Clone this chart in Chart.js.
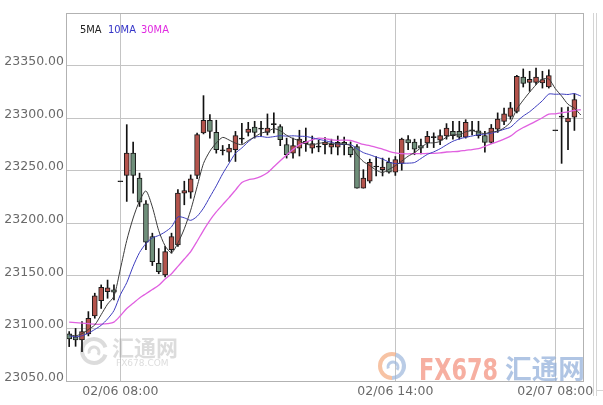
<!DOCTYPE html>
<html>
<head>
<meta charset="utf-8">
<script src="https://cdn.jsdelivr.net/npm/chart.js@4.4.1/dist/chart.umd.min.js"></script>
<style>
html, body { margin: 0; padding: 0; background: #fff; }
#wrap { position: relative; width: 603px; height: 405px; }
</style>
</head>
<body>
<div id="wrap"><canvas id="kChart"></canvas></div>
<script>
// Candles (one per slot)
const opens = [23094.8, 23092, 23089, 23094.8, 23112, 23126.5, 23135, 23136.7, 23239.5, 23245.5,
    23266.8, 23243, 23218.6, 23187.4, 23162, 23151, 23174.8, 23179.5, 23228.7, 23229.7,
    23245.5, 23285.9, 23298, 23286.4, 23269, 23267.7, 23270, 23280, 23286.4, 23291.5,
    23289.5, 23286.4, 23293.8, 23292, 23274.8, 23266.8, 23271.5, 23275.7, 23271.5, 23272.5,
    23274.8, 23272.5, 23272.5, 23277, 23272.5, 23273, 23233.4, 23240, 23253.5, 23251,
    23258, 23248.7, 23257, 23279.5, 23277.2, 23274, 23276.4, 23281.5, 23279, 23283,
    23287.4, 23287.4, 23282, 23288, 23288, 23283.3, 23277, 23289.5, 23297, 23301.7,
    23306.5, 23339, 23334, 23334, 23333.5, 23329.6, 23288, 23301, 23296.4, 23301];
const highs = [23097, 23100, 23106.5, 23116, 23133.5, 23141.4, 23146, 23141.4, 23239.5, 23293.8,
    23277.3, 23247.7, 23221.5, 23190.6, 23176, 23178, 23190.6, 23232, 23240, 23246,
    23285.9, 23321.4, 23303.3, 23298, 23274, 23275, 23287.4, 23295, 23296, 23297,
    23297, 23304, 23305, 23293.8, 23281, 23281, 23288.5, 23290.6, 23283, 23279,
    23281.5, 23280, 23283, 23282, 23277.4, 23274.8, 23251, 23261, 23263.5, 23262,
    23262, 23263.5, 23281, 23283.3, 23280, 23280, 23287.4, 23286, 23289, 23294.8,
    23297, 23297, 23298.5, 23297, 23297, 23287.4, 23294, 23305, 23309.5, 23315,
    23340.8, 23346.8, 23344.6, 23347.7, 23344.6, 23346, 23288, 23310, 23310.6, 23323.3];
const lows = [23082.7, 23083, 23078, 23092.9, 23109.7, 23119, 23128.7, 23127, 23239.5, 23220.8,
    23228.7, 23216, 23175, 23159.8, 23152, 23149, 23171.6, 23178, 23217.6, 23223.8,
    23242.4, 23285, 23281, 23266.7, 23265, 23258.8, 23258.8, 23276, 23283, 23281,
    23283, 23284, 23286, 23273.8, 23262, 23262, 23264, 23268.4, 23266.7, 23268,
    23266, 23266, 23265, 23265, 23263, 23233.4, 23233.4, 23238.3, 23245, 23245,
    23247.7, 23245.5, 23250.5, 23270, 23265.2, 23266, 23272, 23272, 23274.8, 23280,
    23280, 23280, 23281, 23284, 23281, 23267.7, 23276, 23286.4, 23293.8, 23299,
    23305, 23329.6, 23325.5, 23332, 23328.6, 23328.6, 23288, 23257, 23270, 23288.3];
const closes = [23090, 23089, 23097, 23109.7, 23131, 23139, 23138.6, 23134.5, 23239.5, 23266.8,
    23245.5, 23220, 23182, 23163.6, 23154, 23173, 23187.4, 23228.7, 23231, 23242.4,
    23284.3, 23298, 23287.4, 23270, 23269, 23271.5, 23283.3, 23280, 23289.5, 23286.4,
    23289.5, 23290.6, 23293.8, 23279.5, 23265.2, 23273.8, 23280, 23278, 23275.7, 23272.5,
    23277.2, 23275, 23277, 23274.8, 23265.2, 23233.4, 23243, 23258, 23253.5, 23253.5,
    23248.7, 23260.5, 23280, 23276.4, 23270.6, 23271.5, 23282.7, 23281.5, 23283.3, 23290.6,
    23283.3, 23282, 23296, 23288, 23283.3, 23277, 23290.6, 23299, 23304, 23309.7,
    23339.8, 23333, 23337, 23339, 23336.7, 23340.5, 23288, 23301, 23300, 23317.6];

// Moving average lines (81 slots, the last one has no candle)
const ma5 = [23094, 23093, 23095, 23099, 23103.3, 23113.1, 23123.1, 23130.6, 23156.5, 23183.7,
    23205.0, 23221.3, 23230.8, 23215.6, 23193.0, 23178.5, 23172.0, 23181.3, 23194.8, 23212.5,
    23234.8, 23256.9, 23268.6, 23276.4, 23281.7, 23279.2, 23276.2, 23274.8, 23278.7, 23282.1,
    23285.7, 23287.2, 23290.0, 23288.0, 23283.7, 23280.6, 23278.5, 23275.3, 23274.5, 23276.0,
    23276.7, 23275.7, 23275.5, 23275.3, 23273.8, 23265.1, 23258.7, 23254.9, 23250.6, 23248.3,
    23251.3, 23254.8, 23259.2, 23263.8, 23267.2, 23271.8, 23276.2, 23276.5, 23277.9, 23281.9,
    23284.3, 23284.1, 23287.0, 23288.0, 23286.5, 23285.3, 23287.0, 23287.6, 23290.8, 23296.1,
    23308.6, 23317.1, 23324.7, 23331.7, 23337.1, 23337.2, 23328.2, 23321.0, 23313.2, 23309.4, 23303];
const ma10 = [23093, 23092, 23093, 23095.5, 23099, 23103, 23109, 23117, 23132, 23143.5,
    23159.1, 23172.2, 23180.7, 23186.1, 23188.4, 23191.8, 23196.6, 23206.1, 23205.2, 23202.8,
    23206.6, 23214.4, 23225.0, 23235.6, 23247.1, 23257.0, 23266.6, 23271.7, 23277.5, 23281.9,
    23282.5, 23281.7, 23282.4, 23283.3, 23282.9, 23283.2, 23282.8, 23282.6, 23281.3, 23279.9,
    23278.6, 23277.1, 23275.4, 23274.9, 23274.9, 23270.9, 23267.2, 23265.2, 23263.0, 23261.1,
    23258.2, 23256.8, 23257.1, 23257.2, 23257.8, 23261.6, 23265.5, 23267.9, 23270.9, 23274.6,
    23278.0, 23280.2, 23281.8, 23283.0, 23284.2, 23284.8, 23285.6, 23287.3, 23289.4, 23291.3,
    23296.9, 23302.0, 23306.1, 23311.2, 23316.6, 23322.9, 23322.7, 23322.9, 23322.5, 23323.3, 23321];
const ma30 = [23106, 23105.5, 23105, 23104.5, 23104, 23104, 23104.5, 23106, 23112, 23119,
    23124, 23129, 23133, 23137, 23141, 23147, 23152, 23159, 23166, 23173.1,
    23182.9, 23193.3, 23202.8, 23210.8, 23217.7, 23224.4, 23231.6, 23238.9, 23241.4, 23242.4,
    23244.6, 23248.1, 23253.7, 23259.5, 23265.0, 23270.1, 23274.7, 23277.2, 23279.4, 23280.9,
    23280.5, 23279.4, 23278.9, 23279.1, 23278.9, 23277.0, 23275.0, 23273.9, 23272.1, 23270.5,
    23268.4, 23266.9, 23266.2, 23266.1, 23266.3, 23266.2, 23266.4, 23266.5, 23266.9, 23267.8,
    23268.1, 23268.5, 23269.4, 23270.1, 23271.0, 23273.2, 23275.6, 23277.6, 23280.1, 23282.9,
    23287.5, 23291.1, 23294.0, 23297.1, 23300.4, 23303.9, 23304.1, 23305.1, 23305.9, 23307.3, 23308];

// Axis labels
const tickIndex = [8, 51, 76];
const tickText = ['02/06 08:00', '02/06 14:00', '02/07 08:00'];
const yMin = 23050, yMax = 23400, yStep = 50;

const labels = ma5.map((v, i) => {
    const k = tickIndex.indexOf(i);
    return k >= 0 ? tickText[k] : '';
});

const UP = '#b4534c', DOWN = '#6f8f7a';
const bodyColors = closes.map((c, i) => c > opens[i] ? UP : (c < opens[i] ? DOWN : '#111'));

Chart.defaults.font.family = "'DejaVu Sans', sans-serif";
Chart.defaults.font.size = 12.5;
Chart.defaults.color = '#6a6a6a';

// frame, legend text and watermarks
const chartDecor = {
    id: 'chartDecor',
    beforeDatasetsDraw(chart) {
        const ctx = chart.ctx;
        ctx.save();
        // left watermark
        ctx.globalAlpha = 0.35;
        ctx.strokeStyle = '#9a9a9a';
        ctx.lineWidth = 4;
        ctx.beginPath();
        ctx.arc(94, 351, 12, 0.3, Math.PI * 1.9);
        ctx.stroke();
        ctx.lineWidth = 3;
        ctx.beginPath();
        ctx.arc(94, 352, 5, Math.PI * 0.9, Math.PI * 2.2);
        ctx.stroke();
        ctx.fillStyle = '#9a9a9a';
        ctx.font = "bold 22px 'Noto Sans CJK SC', sans-serif";
        ctx.textBaseline = 'alphabetic';
        ctx.fillText('汇通网', 112, 356);
        ctx.font = "9px 'DejaVu Sans', sans-serif";
        ctx.fillText('FX678.COM', 116, 366);
        // right watermark
        ctx.globalAlpha = 0.7;
        ctx.lineWidth = 4;
        ctx.strokeStyle = '#f3a97d';
        ctx.beginPath();
        ctx.arc(392, 366, 12, Math.PI * 0.5, Math.PI * 1.6);
        ctx.stroke();
        ctx.strokeStyle = '#9db6dc';
        ctx.beginPath();
        ctx.arc(392, 366, 12, Math.PI * 1.6, Math.PI * 2.5);
        ctx.stroke();
        ctx.lineWidth = 3;
        ctx.beginPath();
        ctx.arc(393, 367, 5, Math.PI * 0.9, Math.PI * 2.2);
        ctx.stroke();
        const g = ctx.createLinearGradient(418, 0, 498, 0);
        g.addColorStop(0, '#f8c98a');
        g.addColorStop(1, '#f28c78');
        ctx.fillStyle = g;
        ctx.font = "bold 31px 'Liberation Sans Narrow', 'DejaVu Sans Condensed', sans-serif";
        ctx.fillText('FX678', 419, 380, 79);
        ctx.fillStyle = '#8fadd8';
        ctx.font = "bold 27px 'Noto Sans CJK SC', sans-serif";
        ctx.fillText('汇通网', 505, 379, 80);
        ctx.restore();
    },
    afterDraw(chart) {
        const { ctx, chartArea: a } = chart;
        ctx.save();
        ctx.strokeStyle = '#b2b2b2';
        ctx.lineWidth = 1;
        ctx.strokeRect(Math.round(a.left) + 0.5, Math.round(a.top) + 0.5,
            Math.round(a.right - a.left) - 1, Math.round(a.bottom - a.top));
        ctx.strokeStyle = '#d4d4d4';
        ctx.beginPath();
        ctx.moveTo(593.5, a.top); ctx.lineTo(593.5, 396);
        ctx.moveTo(596.5, a.top); ctx.lineTo(596.5, 396);
        ctx.moveTo(596, 390.5); ctx.lineTo(603, 390.5);
        ctx.stroke();
        ctx.font = "11px 'Liberation Sans Narrow', 'DejaVu Sans Condensed', sans-serif";
        ctx.textBaseline = 'middle';
        [['5MA', '#222222', 80], ['10MA', '#3535c8', 108], ['30MA', '#e02ae0', 141]].forEach(([t, c, x]) => {
            ctx.fillStyle = c;
            ctx.fillText(t, x, 30);
        });
        ctx.restore();
    }
};

new Chart(document.getElementById('kChart'), {
    type: 'bar',
    data: {
        labels: labels,
        datasets: [
            {
                type: 'line', label: '5MA', data: ma5, order: 1,
                borderColor: '#3a3a3a', borderWidth: 1, pointRadius: 0, tension: 0.25
            },
            {
                type: 'line', label: '10MA', data: ma10, order: 1,
                borderColor: '#3c3cbe', borderWidth: 1, pointRadius: 0, tension: 0.25
            },
            {
                type: 'line', label: '30MA', data: ma30, order: 1,
                borderColor: '#e060e0', borderWidth: 1.3, pointRadius: 0, tension: 0.25
            },
            {
                label: 'body', data: opens.map((o, i) => [o, closes[i]]), order: 2,
                grouped: false, barThickness: 5, minBarLength: 1,
                backgroundColor: bodyColors, borderColor: '#1a1a1a', borderWidth: 1, borderSkipped: false
            },
            {
                label: 'wick', data: lows.map((l, i) => [l, highs[i]]), order: 3,
                grouped: false, barThickness: 1, backgroundColor: '#111', borderWidth: 0
            }
        ]
    },
    options: {
        responsive: true,
        maintainAspectRatio: false,
        animation: false,
        events: [],
        layout: { padding: { top: 13, right: 19, bottom: 0, left: 0 } },
        plugins: { legend: { display: false }, tooltip: { enabled: false } },
        scales: {
            x: {
                type: 'category',
                offset: true,
                grid: {
                    offset: false,
                    drawTicks: false,
                    color: ctx => tickIndex.includes(ctx.index) ? '#c4c4c4' : 'rgba(0,0,0,0)'
                },
                border: { display: false },
                ticks: { autoSkip: false, maxRotation: 0, padding: 3 },
                afterFit: scale => { scale.height = 24; }
            },
            y: {
                min: yMin,
                max: yMax,
                grid: { color: '#c4c4c4', drawTicks: false },
                border: { display: false },
                ticks: {
                    stepSize: yStep,
                    padding: 2,
                    labelOffset: -3.5,
                    callback: v => v >= yMax ? '' : Number(v).toFixed(2)
                },
                afterFit: scale => { scale.width = 66; }
            }
        }
    },
    plugins: [chartDecor]
});
</script>
</body>
</html>
